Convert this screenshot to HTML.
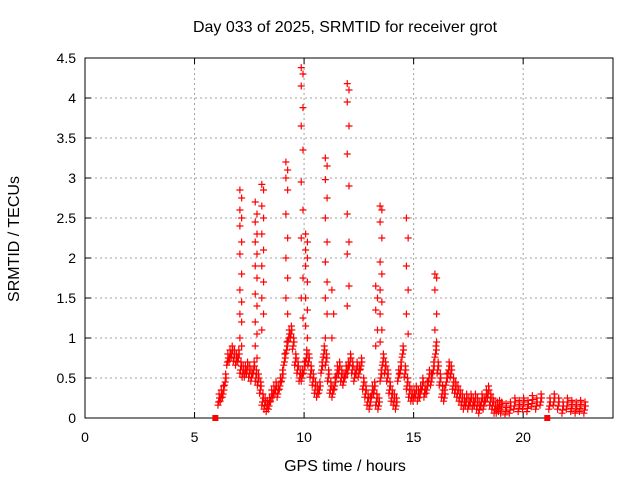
<!DOCTYPE html>
<html><head><meta charset="utf-8"><style>
body{margin:0;background:#fff;}
svg{display:block;font-family:"Liberation Sans",sans-serif;}
</style></head><body>
<svg id="chart" width="640" height="480">
<rect width="640" height="480" fill="#fff"/>
<g id="grid"></g>
<g id="axes"></g>
<g id="marks"></g>
<text x="345" y="32" text-anchor="middle" font-size="16">Day 033 of 2025, SRMTID for receiver grot</text>
<text x="345" y="471" text-anchor="middle" font-size="16">GPS time / hours</text>
<text transform="translate(19,239) rotate(-90)" text-anchor="middle" font-size="16">SRMTID / TECUs</text>
</svg>
<script>
const xTicks=[0,5,10,15,20];
const yTicks=[0,0.5,1,1.5,2,2.5,3,3.5,4,4.5];
const yTickLabels=["0","0.5","1","1.5","2","2.5","3","3.5","4","4.5"];
const baseTimes=[6.1,6.2,6.3,6.4,6.5,6.6,6.7,6.8,6.9,7.0,7.1,7.2,7.3,7.4,7.5,7.6,7.7,7.8,7.9,8.0,8.1,8.2,8.3,8.4,8.5,8.6,8.7,8.8,8.9,9.0,9.1,9.2,9.3,9.4,9.5,9.6,9.7,9.8,9.9,10.0,10.1,10.2,10.3,10.4,10.5,10.6,10.7,10.8,10.9,11.0,11.1,11.2,11.3,11.4,11.5,11.6,11.7,11.8,11.9,12.0,12.1,12.2,12.3,12.4,12.5,12.6,12.7,12.8,12.9,13.0,13.1,13.2,13.3,13.4,13.5,13.6,13.7,13.8,13.9,14.0,14.1,14.2,14.3,14.4,14.5,14.6,14.7,14.8,14.9,15.0,15.1,15.2,15.3,15.4,15.5,15.6,15.7,15.8,15.9,16.0,16.1,16.2,16.3,16.4,16.5,16.6,16.7,16.8,16.9,17.0,17.1,17.2,17.3,17.4,17.5,17.6,17.7,17.8,17.9,18.0,18.1,18.2,18.3,18.4,18.5,18.6,18.7,18.8,18.9,19.0,19.2,19.4,19.6,19.8,20.0,20.2,20.4,20.6,20.8,21.2,21.4,21.6,21.8,22.0,22.2,22.4,22.6,22.8];
const baseValues=[0.2,0.25,0.3,0.45,0.7,0.75,0.8,0.75,0.7,0.75,0.6,0.55,0.55,0.6,0.55,0.5,0.6,0.5,0.45,0.35,0.2,0.15,0.12,0.15,0.25,0.3,0.35,0.3,0.4,0.5,0.7,0.85,1.0,1.05,0.9,0.7,0.6,0.5,0.5,0.6,0.75,0.7,0.55,0.45,0.35,0.3,0.35,0.6,0.8,0.7,0.5,0.35,0.3,0.4,0.55,0.6,0.5,0.45,0.55,0.6,0.7,0.6,0.5,0.6,0.55,0.65,0.4,0.3,0.2,0.15,0.3,0.35,0.2,0.15,0.5,0.7,0.6,0.5,0.35,0.25,0.2,0.15,0.5,0.6,0.8,0.55,0.4,0.3,0.25,0.25,0.3,0.25,0.3,0.4,0.3,0.35,0.5,0.45,0.6,0.8,0.6,0.45,0.3,0.25,0.45,0.6,0.55,0.4,0.35,0.3,0.25,0.2,0.15,0.2,0.15,0.2,0.15,0.2,0.15,0.1,0.2,0.15,0.25,0.3,0.2,0.15,0.1,0.1,0.12,0.1,0.08,0.1,0.15,0.12,0.15,0.12,0.18,0.15,0.2,0.15,0.2,0.15,0.1,0.15,0.12,0.1,0.12,0.1];
const spikeTimes=[7.1,7.8,8.1,9.2,9.9,10.1,11.0,11.3,12.0,13.3,13.5,14.7,16.0];
const spikeValues=[
[2.85,2.75,2.6,2.5,2.4,2.2,2.05,1.8,1.6,1.45,1.3,1.2,1.0,0.9],
[2.7,2.55,2.45,2.3,2.2,2.05,1.9,1.75,1.55,1.4,1.2,1.05,0.9,0.75],
[2.92,2.85,2.65,2.5,2.3,2.1,1.9,1.7,1.5,1.3,1.1],
[3.2,3.1,3.0,2.85,2.55,2.25,2.0,1.75,1.5,1.3],
[4.38,4.3,4.15,3.88,3.65,3.35,2.95,2.6,2.25,1.75,1.5,1.25],
[2.3,2.2,2.1,2.0,1.9,1.7,1.5,1.35,1.15,1.0],
[3.25,3.15,2.98,2.75,2.5,2.2,1.95,1.7,1.5,1.3,1.0],
[1.6,1.3,1.0],
[4.18,4.1,3.95,3.65,3.3,2.9,2.55,2.2,2.05,1.65,1.4],
[1.65,1.5,1.35,1.1,0.9],
[2.65,2.6,2.45,2.25,1.95,1.8,1.6,1.45,1.3,1.1,0.95],
[2.5,2.25,1.9,1.6,1.3,1.05],
[1.8,1.75,1.6,1.3,1.1,0.95]];
const zeroTimes=[5.95,21.1];

const X0=85,X1=613,Y0=418,Y1=58,XMAX=24.1,YMAX=4.5;
const sx=t=>X0+t/XMAX*(X1-X0);
const sy=v=>Y0-v/YMAX*(Y0-Y1);
const NS="http://www.w3.org/2000/svg";
function mk(tag,attrs,parent){const e=document.createElementNS(NS,tag);for(const k in attrs)e.setAttribute(k,attrs[k]);parent.appendChild(e);return e;}
const grid=document.getElementById('grid'),axes=document.getElementById('axes'),marks=document.getElementById('marks');
xTicks.forEach(t=>{const x=sx(t);
 if(t>0){const g=mk('line',{x1:x,x2:x,y1:Y1,y2:Y0,stroke:'#a0a0a0','stroke-dasharray':'2,3'},grid);
 
 }
 mk('line',{x1:x,x2:x,y1:Y0,y2:Y0-6,stroke:'#000'},axes);
 mk('line',{x1:x,x2:x,y1:Y1,y2:Y1+6,stroke:'#000'},axes);
 const l=mk('text',{x:x,y:Y0+24,'text-anchor':'middle','font-size':14},axes);l.textContent=t;
 
 });
yTicks.forEach((v,i)=>{const y=sy(v);
 if(v>0&&v<YMAX){const g=mk('line',{x1:X0,x2:X1,y1:y,y2:y,stroke:'#a0a0a0','stroke-dasharray':'2,3'},grid);
 
 }
 mk('line',{x1:X0,x2:X0+6,y1:y,y2:y,stroke:'#000'},axes);
 mk('line',{x1:X1,x2:X1-6,y1:y,y2:y,stroke:'#000'},axes);
 const l=mk('text',{x:X0-9,y:y+5,'text-anchor':'end','font-size':14},axes);l.textContent=yTickLabels[i];
 
 });
const fr=mk('rect',{x:X0,y:Y1,width:X1-X0,height:Y0-Y1,fill:'none',stroke:'#000'},axes);


let d='';
function cross(t,v){const x=sx(t),y=sy(v);d+=`M${x-3.5},${y}h7M${x},${y-3.5}v7`;}
baseTimes.forEach((t,i)=>{cross(t,baseValues[i]);cross(t+0.04,baseValues[i]+0.05);cross(t-0.03,baseValues[i]-0.04);cross(t+0.02,baseValues[i]+0.1);});
spikeTimes.forEach((t,i)=>spikeValues[i].forEach((v,j)=>cross(t+(j%2?0.05:-0.03),v)));
const p=mk('path',{d:d,stroke:'#ff0000','stroke-width':1.2,fill:'none'},marks);


zeroTimes.forEach(t=>{const r=mk('rect',{x:sx(t)-3,y:Y0-3,width:6,height:6,fill:'#ff0000'},marks);
 
 });
</script>
</body></html>
